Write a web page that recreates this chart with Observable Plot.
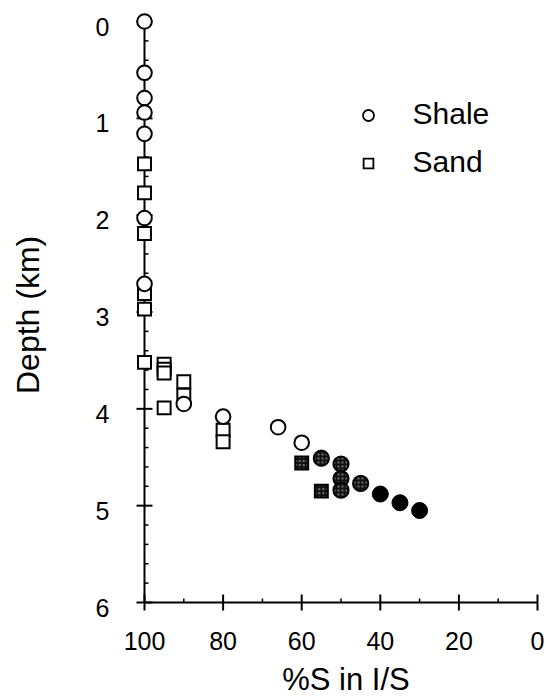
<!DOCTYPE html>
<html>
<head>
<meta charset="utf-8">
<script src="https://cdn.jsdelivr.net/npm/d3@7"></script>
<script src="https://cdn.jsdelivr.net/npm/@observablehq/plot@0.6"></script>
<style>
  html, body { margin: 0; padding: 0; background: #fff; }
  #chart svg { display: block; }
</style>
</head>
<body>
<div id="chart"></div>
<script>
// ---- axis ticks ----
const xTicks = [100, 80, 60, 40, 20, 0];
const xMinorTicks = [90, 70, 50, 30, 10];
const yTicks = [0, 1, 2, 3, 4, 5, 6];
const yMinorTicks = [0.2, 0.4, 0.6, 0.8, 1.2, 1.4, 1.6, 1.8, 2.2, 2.4, 2.6, 2.8,
  3.2, 3.4, 3.6, 3.8, 4.2, 4.4, 4.6, 4.8, 5.2, 5.4, 5.6, 5.8];

// ---- data: %S in I/S (x) vs depth in km (y) ----
// open circles: shale
const shaleX     = [100, 100, 100, 100, 100, 100, 100, 90, 80, 66, 60];
const shaleDepth = [0.00, 0.53, 0.79, 0.94, 1.16, 2.03, 2.71, 3.95, 4.08, 4.19, 4.35];
// open squares: sand
const sandX     = [100, 100, 100, 100, 100, 100, 95, 95, 95, 95, 90, 90, 80, 80];
const sandDepth = [1.47, 1.77, 2.19, 2.81, 2.97, 3.52, 3.54, 3.59, 3.63, 3.99, 3.72, 3.86, 4.22, 4.34];
// stippled (grey) squares: sand
const sandGreyX     = [60, 55];
const sandGreyDepth = [4.56, 4.85];
// stippled (grey) circles: shale
const shaleGreyX     = [55, 50, 50, 50, 45];
const shaleGreyDepth = [4.51, 4.57, 4.72, 4.84, 4.77];
// solid black circles: shale
const shaleBlackX     = [40, 35, 30];
const shaleBlackDepth = [4.88, 4.97, 5.05];

// ---- legend ----
const legendLabels  = ["Shale", "Sand"];
const legendSymbols = ["circle", "square"];

const FONT = "'Liberation Sans', Arial, Helvetica, sans-serif";
const zip = (xs, ys) => xs.map((x, i) => ({x, y: ys[i]}));

// custom tick symbols
const lineSym = (x1, y1, x2, y2) => ({draw(ctx) { ctx.moveTo(x1, y1); ctx.lineTo(x2, y2); }});
const yMajorSym = lineSym(-8, 0, 8, 0);
const yMinorSym = lineSym(0, 0, 4, 0);
const xMajorSym = lineSym(0, -8, 0, 8);
const xMinorSym = lineSym(0, 0, 0, -4);

const yAxisAt = xTicks[0];
const xAxisAt = yTicks[yTicks.length - 1];

const chart = Plot.plot({
  width: 546,
  height: 696,
  marginLeft: 144,
  marginRight: 9,
  marginTop: 21,
  marginBottom: 94,
  style: {fontFamily: FONT, background: "#fff", color: "#000", overflow: "visible"},
  x: {domain: [xTicks[0], xTicks[xTicks.length - 1]], axis: null},
  y: {domain: [yTicks[0], yTicks[yTicks.length - 1]], reverse: true, axis: null},
  marks: [
    // axis lines
    Plot.ruleX([yAxisAt], {y1: yTicks[0], y2: xAxisAt, stroke: "#000", strokeWidth: 2}),
    Plot.ruleY([xAxisAt], {x1: xTicks[0], x2: xTicks[xTicks.length - 1], stroke: "#000", strokeWidth: 2}),
    // ticks
    Plot.dot(yTicks, {x: () => yAxisAt, y: d => d, symbol: yMajorSym, fill: "none", stroke: "#000", strokeWidth: 2}),
    Plot.dot(yMinorTicks, {x: () => yAxisAt, y: d => d, symbol: yMinorSym, fill: "none", stroke: "#000", strokeWidth: 1.5}),
    Plot.dot(xTicks, {x: d => d, y: () => xAxisAt, symbol: xMajorSym, fill: "none", stroke: "#000", strokeWidth: 2}),
    Plot.dot(xMinorTicks, {x: d => d, y: () => xAxisAt, symbol: xMinorSym, fill: "none", stroke: "#000", strokeWidth: 1.5}),
    // tick labels
    Plot.axisY({ticks: yTicks, tickSize: 0, tickPadding: 35, fontSize: 25, dy: 6, label: null, tickFormat: d => String(d)}),
    Plot.axisX({ticks: xTicks, tickSize: 0, tickPadding: 30, fontSize: 25, label: null, tickFormat: d => String(d)}),
    // axis titles
    Plot.text(["%S in I/S"], {frameAnchor: "bottom", lineAnchor: "bottom", dx: 5, dy: 87, fontSize: 31, fill: "#000"}),
    Plot.text(["Depth (km)"], {frameAnchor: "left", rotate: -90, lineAnchor: "middle", dx: -116, dy: 82, fontSize: 32, fill: "#000"}),
    // data
    Plot.dot(zip(sandX, sandDepth), {x: "x", y: "y", symbol: "square", r: 7.3, fill: "#fff", stroke: "#000", strokeWidth: 2}),
    Plot.dot(zip(shaleX, shaleDepth), {x: "x", y: "y", symbol: "circle", r: 7.3, fill: "#fff", stroke: "#000", strokeWidth: 2}),
    Plot.dot(zip(sandGreyX, sandGreyDepth), {x: "x", y: "y", symbol: "square", r: 7.3, fill: "url(#stipple)", stroke: "#000", strokeWidth: 2}),
    Plot.dot(zip(shaleGreyX, shaleGreyDepth), {x: "x", y: "y", symbol: "circle", r: 7.6, fill: "url(#stipple)", stroke: "#000", strokeWidth: 2}),
    Plot.dot(zip(shaleBlackX, shaleBlackDepth), {x: "x", y: "y", symbol: "circle", r: 8, fill: "#000", stroke: "#000", strokeWidth: 1}),
    // legend
    Plot.dot([legendSymbols[0]], {frameAnchor: "top-right", dx: -169, dy: 94, symbol: d => d, r: 5.5, fill: "#fff", stroke: "#000", strokeWidth: 1.8}),
    Plot.dot([legendSymbols[1]], {frameAnchor: "top-right", dx: -169, dy: 142, symbol: d => d, r: 5.5, fill: "#fff", stroke: "#000", strokeWidth: 1.8}),
    Plot.text([legendLabels[0]], {frameAnchor: "top-right", dx: -125, dy: 93, textAnchor: "start", lineAnchor: "middle", fontSize: 30, fill: "#000"}),
    Plot.text([legendLabels[1]], {frameAnchor: "top-right", dx: -125, dy: 141, textAnchor: "start", lineAnchor: "middle", fontSize: 30, fill: "#000"})
  ]
});

// stipple pattern for the grey markers
const ns = "http://www.w3.org/2000/svg";
const defs = document.createElementNS(ns, "defs");
defs.innerHTML = `<pattern id="stipple" width="4" height="4" patternUnits="userSpaceOnUse">
  <rect width="4" height="4" fill="#111"/>
  <circle cx="2" cy="2" r="0.75" fill="#fff"/>
</pattern>`;
chart.insertBefore(defs, chart.firstChild);

document.getElementById("chart").appendChild(chart);
</script>
</body>
</html>
